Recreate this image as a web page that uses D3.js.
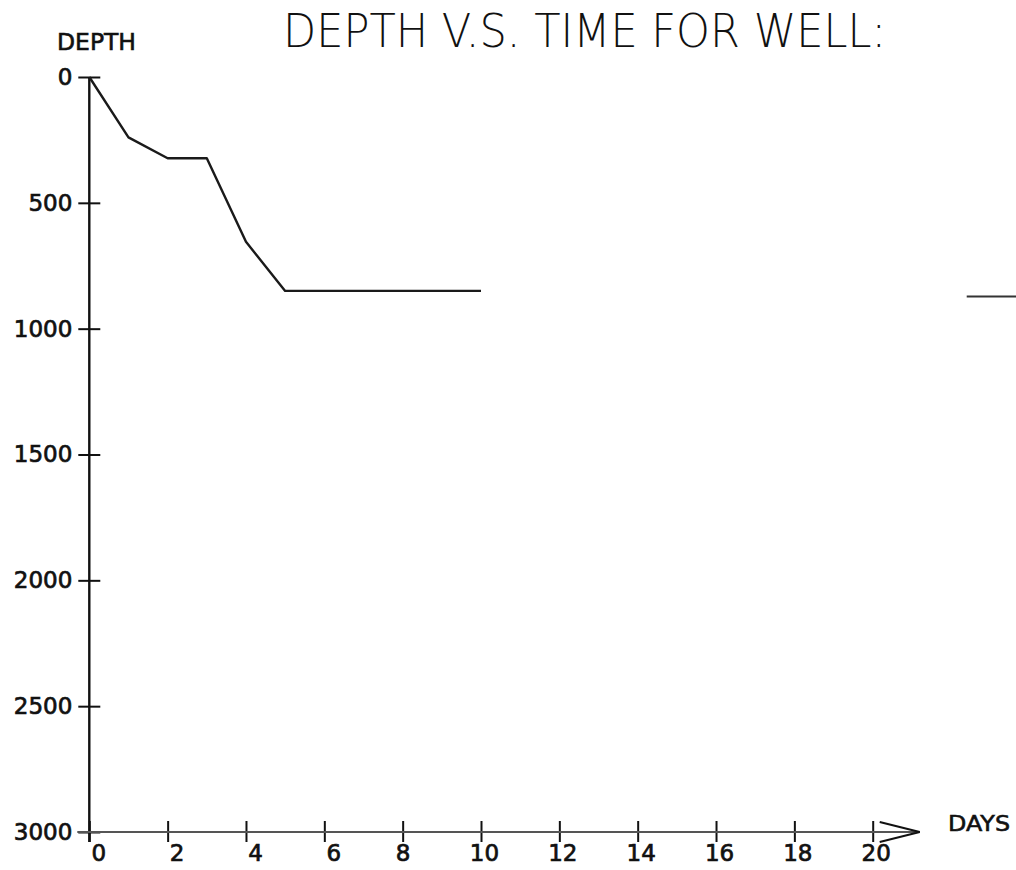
<!DOCTYPE html>
<html>
<head>
<meta charset="utf-8">
<script src="https://cdn.jsdelivr.net/npm/d3@7"></script>
<style>
  body { margin: 0; background: #fff; }
  svg { display: block; }
  text { font-family: "DejaVu Sans", sans-serif; fill: #111; }
</style>
</head>
<body>
<div id="chart"></div>
<script>
// data
var days = [0, 1, 2, 3, 4, 5, 10];
var depths = [0, 240, 323, 323, 655, 850, 850];
// stray segment at the right edge
var tailDays = [22.4, 24];
var tailDepths = [872, 872];

var xTicks = [0, 2, 4, 6, 8, 10, 12, 14, 16, 18, 20];
var yTicks = [0, 500, 1000, 1500, 2000, 2500, 3000];

function init() {
  var width = 1016, height = 870;

  var svg = d3.select("#chart")
    .append("svg")
    .attr("width", width)
    .attr("height", height);

  var x = d3.scaleLinear().domain([0, 20]).range([89.3, 872.7]);
  var y = d3.scaleLinear().domain([0, 3000]).range([77, 832]);

  // Y axis, ticks cross the axis line
  var yAxis = svg.append("g")
    .attr("transform", "translate(" + x(0) + ",0)")
    .call(d3.axisLeft(y).tickValues(yTicks).tickFormat(d3.format("d"))
      .tickSize(11).tickPadding(6).tickSizeOuter(0));
  yAxis.select(".domain").remove();
  yAxis.selectAll(".tick line").attr("x1", 11).attr("stroke", "#111").attr("stroke-width", 2);
  yAxis.selectAll(".tick text")
    .style("font-size", "23px")
    .style("font-family", "DejaVu Sans, sans-serif")
    .attr("fill", "#111").attr("stroke", "#111").attr("stroke-width", 0.7);

  // X axis
  var xAxis = svg.append("g")
    .attr("transform", "translate(0," + y(3000) + ")")
    .call(d3.axisBottom(x).tickValues(xTicks).tickSize(10).tickPadding(3).tickSizeOuter(0));
  xAxis.select(".domain").remove();
  xAxis.selectAll(".tick line").attr("y1", -11).attr("stroke", "#111").attr("stroke-width", 2);
  xAxis.selectAll(".tick text")
    .style("font-size", "23px")
    .style("font-family", "DejaVu Sans, sans-serif")
    .attr("fill", "#111").attr("stroke", "#111").attr("stroke-width", 0.7)
    .attr("dx", function (d) { return (d < 8) ? 9 : (d < 10 ? 0 : 3); });

  // axis lines
  var tipX = x(20) + 47;
  svg.append("line")
    .attr("x1", x(0)).attr("x2", x(0))
    .attr("y1", y(0)).attr("y2", y(3000) + 10)
    .attr("stroke", "#111").attr("stroke-width", 2.4);
  svg.append("line")
    .attr("x1", x(0) - 12).attr("x2", tipX)
    .attr("y1", y(3000)).attr("y2", y(3000))
    .attr("stroke", "#555").attr("stroke-width", 1.8);
  // arrow head
  svg.append("path")
    .attr("d", "M" + (tipX - 40) + "," + (y(3000) - 10) + "L" + tipX + "," + y(3000) +
      "L" + (tipX - 40) + "," + (y(3000) + 10))
    .attr("fill", "none").attr("stroke", "#111").attr("stroke-width", 2);

  // depth line
  var line = d3.line()
    .x(function (d) { return x(d[0]); })
    .y(function (d) { return y(d[1]); });
  svg.append("path")
    .datum(d3.zip(days, depths))
    .attr("d", line)
    .attr("fill", "none").attr("stroke", "#1a1a1a").attr("stroke-width", 2.4)
    .attr("stroke-linejoin", "round");
  svg.append("path")
    .datum(d3.zip(tailDays, tailDepths))
    .attr("d", line)
    .attr("fill", "none").attr("stroke", "#333").attr("stroke-width", 2);

  // labels
  svg.append("text")
    .attr("x", 283).attr("y", 47)
    .attr("textLength", 603).attr("lengthAdjust", "spacingAndGlyphs")
    .style("font-size", "46px").style("font-weight", 200)
    .text("DEPTH V.S. TIME FOR WELL:");
  svg.append("text")
    .attr("x", 57).attr("y", 50)
    .attr("textLength", 79).attr("lengthAdjust", "spacingAndGlyphs")
    .attr("stroke", "#111").attr("stroke-width", 0.6)
    .style("font-size", "23px")
    .text("DEPTH");
  svg.append("text")
    .attr("x", 948).attr("y", 831)
    .attr("textLength", 62).attr("lengthAdjust", "spacingAndGlyphs")
    .attr("stroke", "#111").attr("stroke-width", 0.6)
    .style("font-size", "22px")
    .text("DAYS");
}
window.onload = init;
</script>
</body>
</html>
